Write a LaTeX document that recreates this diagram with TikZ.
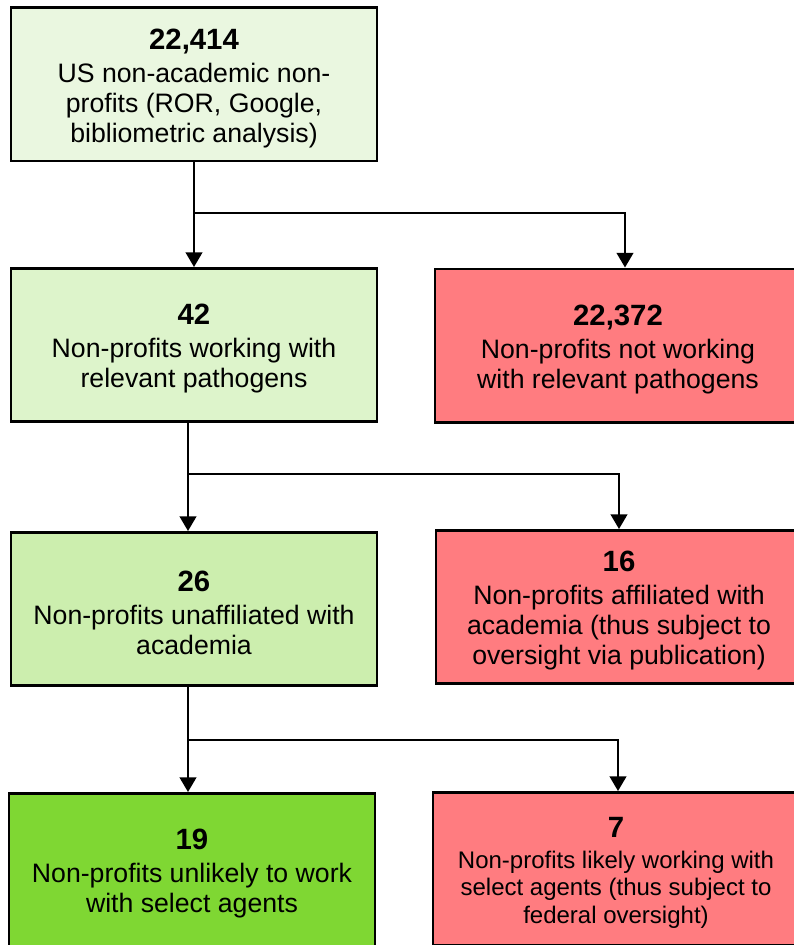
\documentclass[tikz,border=0pt]{standalone}
\usepackage{fontspec}
\setmainfont{Liberation Sans}
\usetikzlibrary{arrows.meta}
\definecolor{paleA}{HTML}{EAF7E0}
\definecolor{paleB}{HTML}{DDF4CB}
\definecolor{paleC}{HTML}{CCEEAE}
\definecolor{keep}{HTML}{7FD733}
\definecolor{drop}{HTML}{FF7C80}
\tikzset{
  box/.style={draw=black, line width=2pt, minimum width=274.5pt, minimum height=115pt,
    align=center, inner sep=0pt, font=\fontsize{20}{22.5}\selectfont},
  smalltext/.style={font=\fontsize{18}{20.6}\selectfont},
  flow/.style={line width=1.6pt, -{Triangle[width=12.5pt,length=11pt]}}
}
% bold count on the first line of each box, with a little extra room above and below
\newcommand{\cnt}[1]{{\fontsize{22}{24}\selectfont\bfseries\rule{0pt}{21pt}#1}\\[2.5pt]}
\begin{document}
\begin{tikzpicture}[x=0.75pt,y=-0.75pt]
\useasboundingbox (0,0) rectangle (793,945);
\fill[white] (0,0) rectangle (793,945);

% stage boxes
\node[box, fill=paleA] (all) at (194,84.5)
  {\cnt{22,414}US non-academic non-\\profits (ROR, Google,\\bibliometric analysis)};
\node[box, fill=paleB] (path) at (194,345)
  {\cnt{42}Non-profits working with\\relevant pathogens};
\node[box, fill=drop] (nopath) at (618,345.5)
  {\cnt{22,372}Non-profits not working\\with relevant pathogens};
\node[box, fill=paleC] (unaff) at (194,609)
  {\cnt{26}Non-profits unaffiliated with\\academia};
\node[box, fill=drop] (aff) at (619,607)
  {\cnt{16}Non-profits affiliated with\\academia (thus subject to\\oversight via publication)};
\node[box, fill=keep] (unlikely) at (192,870)
  {\cnt{19}Non-profits unlikely to work\\with select agents};
\node[box, fill=drop, smalltext] (likely) at (616,869)
  {\cnt{7}Non-profits likely working with\\select agents (thus subject to\\federal oversight)};

% branch points
\coordinate (j1) at (194,213);
\coordinate (j2) at (188,474);
\coordinate (j3) at (188,740);

% connectors
\draw[flow] (all.south) -- (path.north);
\draw[flow] (j1) -| ([xshift=5.25pt]nopath.north);
\draw[flow] ([xshift=-4.5pt]path.south) -- ([xshift=-4.5pt]unaff.north);
\draw[flow] (j2) -| (aff.north);
\draw[flow] ([xshift=-4.5pt]unaff.south) -- ([xshift=-3pt]unlikely.north);
\draw[flow] (j3) -| ([xshift=1.5pt]likely.north);
\end{tikzpicture}
\end{document}
